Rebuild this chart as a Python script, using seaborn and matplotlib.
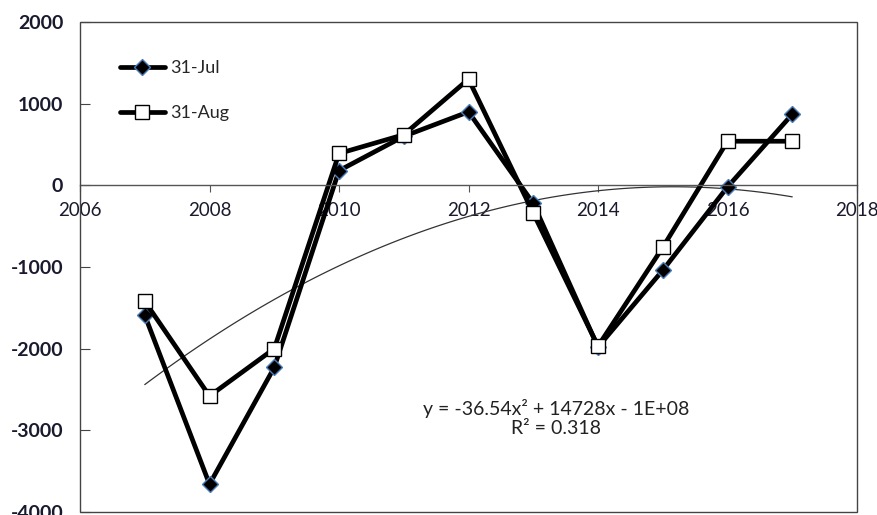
import matplotlib
matplotlib.use("Agg")
import matplotlib.pyplot as plt
import seaborn as sns
from matplotlib.patches import Rectangle

# values
years = [2007, 2008, 2009, 2010, 2011, 2012, 2013, 2014, 2015, 2016, 2017]
jul_31 = [-1590, -3660, -2230, 180, 600, 900, -220, -1980, -1040, -20, 870]
aug_31 = [-1420, -2580, -2000, 390, 620, 1300, -340, -1970, -760, 540, 540]
xticks = [2006, 2008, 2010, 2012, 2014, 2016, 2018]
yticks = [2000, 1000, 0, -1000, -2000, -3000, -4000]
equation = "y = -36.54x² + 14728x - 1E+08\nR² = 0.318"

sns.set_style("white")
plt.rcParams['font.family'] = ['Lato', 'DejaVu Sans']

fig = plt.figure(figsize=(8.78, 5.15), dpi=100)
ax = fig.add_axes([80/878, 3/515, 777/878, 490/515])

# trendline (2nd order poly fit on 31-Jul), drawn by seaborn
sns.regplot(x=years, y=jul_31, order=2, ci=None, scatter=False, ax=ax,
            line_kws=dict(color="#333333", lw=0.9))

sns.lineplot(x=years, y=jul_31, ax=ax, color="black", lw=3.4, marker="D",
             markersize=8, markerfacecolor="black", markeredgecolor="#4a7ebb",
             markeredgewidth=1.0, label="31-Jul")
sns.lineplot(x=years, y=aug_31, ax=ax, color="black", lw=3.4, marker="s",
             markersize=10.5, markerfacecolor="white", markeredgecolor="black",
             markeredgewidth=1.0, label="31-Aug")

# x axis crosses at zero (set before tick labels: set_position resets ticks)
for s in ["top", "right", "left"]:
    ax.spines[s].set_visible(False)
ax.spines["bottom"].set_position(("data", 0))
ax.spines["bottom"].set_color("#555555")
ax.spines["bottom"].set_linewidth(1.0)
ax.add_patch(Rectangle((0, 0), 1, 1, transform=ax.transAxes, fill=False,
                       ec="#444444", lw=1.0, clip_on=False, zorder=5))

ax.set_xlim(2006, 2018)
ax.set_ylim(-4000, 2000)
ax.set_xticks(xticks)
ax.set_yticks(yticks)
ax.set_yticklabels([str(v) for v in yticks], fontweight="bold", fontsize=14)
ax.set_xticklabels([str(v) for v in xticks], fontsize=13.5)
ax.tick_params(axis="x", direction="out", length=5, color="#555555", pad=7,
               bottom=True, labelcolor="#1a1a2e")
ax.tick_params(axis="y", direction="in", length=7, color="#444444", pad=12,
               left=True, labelcolor="#1a1a2e")

ax.text(2013.35, -2850, equation, ha="center", va="center", fontsize=14,
        linespacing=1.15, color="#222222")

leg = ax.legend(loc="upper left", bbox_to_anchor=(0.03, 0.955), frameon=False,
                labelspacing=1.6, handlelength=2.5, handletextpad=0.3,
                fontsize=13)

fig.savefig("out.png", dpi=100)
